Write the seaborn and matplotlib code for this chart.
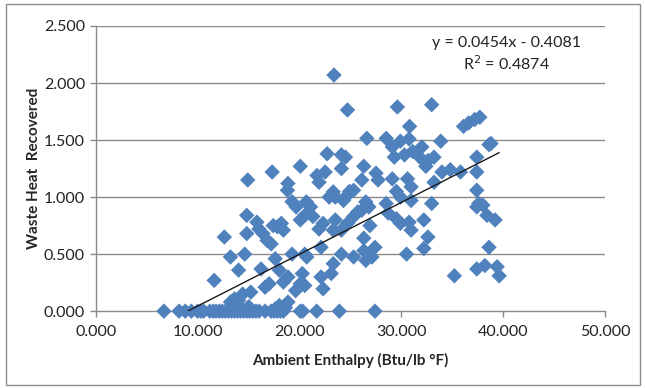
import numpy as np
import pandas as pd
import matplotlib
matplotlib.use('Agg')
import matplotlib.pyplot as plt
import seaborn as sns
from matplotlib.patches import Rectangle

sns.set_style('white')
plt.rcParams['font.family'] = ['Lato', 'DejaVu Sans']

# points lying on zero
zero_x = [6.66, 8.15, 8.76, 9.36, 9.97, 10.3, 10.57, 11.18, 11.5, 11.78, 12.1, 12.39,
          12.7, 13.0, 13.3, 13.6, 13.9, 14.2, 14.5, 14.8, 15.1, 15.4, 15.7, 16.0, 16.6,
          17.2, 17.5, 17.8, 18.1, 18.4, 20.06, 20.3, 21.67, 23.9, 27.4]
low_x = [13.5, 14.0, 14.3, 15.0, 18.6, 17.6, 13.6, 13.2, 14.0, 18.85, 18.0]
low_y = [0.03, 0.05, 0.02, 0.04, 0.03, 0.02, 0.108, 0.08, 0.094, 0.08, 0.05]

enthalpy = [23.37, 24.7, 29.6, 32.97, 36.1, 36.6, 37.2, 37.7, 30.8, 26.6, 28.5, 29.9,
            30.75, 33.86, 32.0, 38.6, 38.8, 29.1, 22.7, 24.1, 24.5, 29.3, 30.3, 31.1,
            31.8, 32.6, 33.2, 32.4, 37.4, 26.3, 20.06, 24.1, 17.3, 14.9, 21.7, 22.5,
            21.9, 27.5, 27.7, 26.1, 29.1, 30.6, 33.98, 34.8, 35.8, 37.4, 33.2, 30.95,
            37.4, 18.85, 18.8, 23.3, 23.5, 22.9, 24.5, 24.9, 25.3, 24.3, 29.5, 29.9,
            30.95, 19.25, 19.65, 20.66, 21.07, 26.5, 26.8, 26.1, 28.5, 32.97, 37.6, 38.0,
            37.4, 14.8, 15.8, 16.0, 16.4, 17.4, 17.8, 18.2, 18.4, 20.06, 20.5, 21.3,
            21.9, 22.3, 23.5, 23.3, 24.1, 24.7, 25.3, 25.7, 26.9, 28.7, 29.5, 29.9,
            30.75, 30.95, 32.2, 38.4, 39.2, 12.6, 14.8, 16.8, 17.2, 26.3, 32.6, 20.5,
            20.7, 19.25, 22.1, 13.2, 14.6, 17.6, 24.1, 25.3, 26.3, 26.5, 27.1, 27.4,
            32.2, 30.5, 38.6, 23.3, 35.2, 37.4, 38.2, 39.4, 39.6, 14.0, 16.2, 11.6,
            18.0, 18.85, 18.4, 20.26, 20.5, 22.1, 22.3, 23.1, 14.4, 15.2, 16.6, 17.0,
            20.06, 19.6]
heat = [2.07, 1.764, 1.79, 1.81, 1.62, 1.65, 1.68, 1.70, 1.62, 1.515, 1.515, 1.49,
        1.51, 1.49, 1.44, 1.46, 1.47, 1.44, 1.38, 1.37, 1.35, 1.35, 1.37, 1.40,
        1.35, 1.32, 1.35, 1.27, 1.35, 1.27, 1.27, 1.25, 1.22, 1.15, 1.19, 1.22,
        1.13, 1.21, 1.15, 1.15, 1.16, 1.16, 1.22, 1.24, 1.22, 1.22, 1.13, 1.09,
        1.06, 1.12, 1.06, 1.046, 1.00, 1.00, 1.00, 1.05, 1.06, 0.97, 1.05, 1.00,
        0.97, 0.96, 0.914, 0.958, 0.914, 0.958, 0.914, 0.885, 0.944, 0.944, 0.944, 0.93,
        0.914, 0.84, 0.78, 0.72, 0.68, 0.75, 0.74, 0.77, 0.71, 0.80, 0.84, 0.83,
        0.72, 0.77, 0.80, 0.71, 0.71, 0.77, 0.83, 0.87, 0.75, 0.86, 0.81, 0.77,
        0.78, 0.71, 0.80, 0.84, 0.80, 0.65, 0.68, 0.62, 0.59, 0.64, 0.65, 0.50,
        0.475, 0.50, 0.56, 0.475, 0.50, 0.46, 0.50, 0.475, 0.53, 0.445, 0.475, 0.56,
        0.55, 0.50, 0.56, 0.416, 0.31, 0.37, 0.40, 0.39, 0.31, 0.36, 0.37, 0.27,
        0.36, 0.30, 0.255, 0.33, 0.225, 0.30, 0.196, 0.33, 0.15, 0.167, 0.21, 0.24,
        0.24, 0.18]

slope, intercept = 0.0454, -0.4081
eq_text = 'y = 0.0454x - 0.4081\nR$^2$ = 0.4874'

df = pd.DataFrame({
    'x': enthalpy + zero_x + low_x,
    'y': heat + [0.0] * len(zero_x) + low_y,
})
fit_x = np.array([df.x.min(), df.x.max()])
fit = pd.DataFrame({'x': fit_x, 'y': slope * fit_x + intercept})

fig = plt.figure(figsize=(6.45, 3.88), dpi=100)
ax = fig.add_axes([0.149, 0.198, 0.789, 0.735])
fig.patches.append(Rectangle((0.009, 0.008), 0.984, 0.982, transform=fig.transFigure,
                             fill=False, edgecolor='#8c8c8c', linewidth=1))

grid_c = '#8a8a8a'
for v in np.arange(0.5, 2.51, 0.5):
    ax.axhline(v, color=grid_c, linewidth=1, zorder=0)

sns.scatterplot(data=df, x='x', y='y', marker='D', s=62, color='#4F81BD',
                edgecolor='none', linewidth=0, ax=ax, zorder=3, clip_on=False)
sns.lineplot(data=fit, x='x', y='y', color='#1a1a1a', linewidth=1, ax=ax, zorder=4)

ax.set_xlim(0, 50)
ax.set_ylim(0, 2.5)
ax.set_xticks(np.arange(0, 51, 10))
ax.set_yticks(np.arange(0, 2.51, 0.5))
ax.xaxis.set_major_formatter(matplotlib.ticker.FormatStrFormatter('%.3f'))
ax.yaxis.set_major_formatter(matplotlib.ticker.FormatStrFormatter('%.3f'))
ax.tick_params(axis='both', direction='out', length=4, width=1, color=grid_c,
               labelsize=11.5, labelcolor='#222222', pad=4, left=True, bottom=True)
ax.tick_params(axis='x', pad=6)
for side in ['top', 'right']:
    ax.spines[side].set_visible(False)
for side in ['left', 'bottom']:
    ax.spines[side].set_color(grid_c)
    ax.spines[side].set_linewidth(1)

ax.set_xlabel('Ambient Enthalpy (Btu/lb °F)', fontsize=11, fontweight='bold', labelpad=10)
ax.set_ylabel('Waste Heat  Recovered', fontsize=11, fontweight='bold', labelpad=2)
ax.text(40.3, 2.25, eq_text, ha='center', va='center', fontsize=11.5,
        color='#222222', linespacing=1.25)

fig.savefig('out.png', dpi=100)
